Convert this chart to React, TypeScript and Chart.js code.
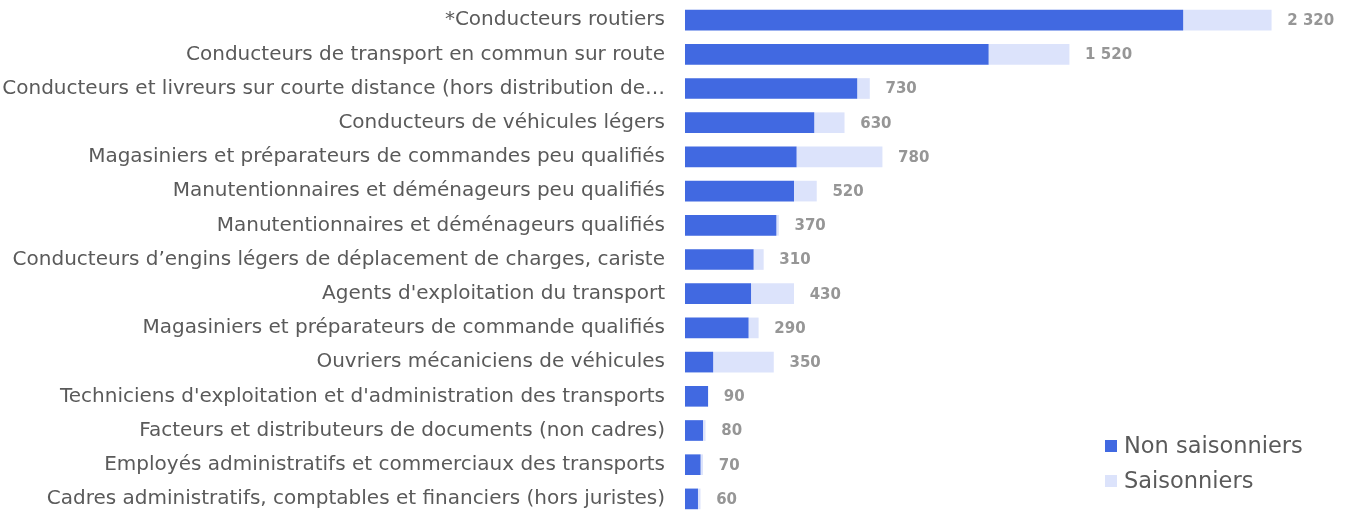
import React, { useEffect, useRef } from "react";
import { Chart, registerables } from "chart.js";

Chart.register(...registerables);

const categories: string[] = [
  "*Conducteurs routiers",
  "Conducteurs de transport en commun sur route",
  "Conducteurs et livreurs sur courte distance (hors distribution de…",
  "Conducteurs de véhicules légers",
  "Magasiniers et préparateurs de commandes peu qualifiés",
  "Manutentionnaires et déménageurs peu qualifiés",
  "Manutentionnaires et déménageurs qualifiés",
  "Conducteurs d’engins légers de déplacement de charges, cariste",
  "Agents d'exploitation du transport",
  "Magasiniers et préparateurs de commande qualifiés",
  "Ouvriers mécaniciens de véhicules",
  "Techniciens d'exploitation et d'administration des transports",
  "Facteurs et distributeurs de documents (non cadres)",
  "Employés administratifs et commerciaux des transports",
  "Cadres administratifs, comptables et financiers (hors juristes)",
];

const nonSaisonniers: number[] = [1970, 1200, 680, 510, 440, 430, 360, 270, 260, 250, 110, 90, 70, 60, 50];
const saisonniers: number[] = [350, 320, 50, 120, 340, 90, 10, 40, 170, 40, 240, 0, 10, 10, 10];
const totals: number[] = [2320, 1520, 730, 630, 780, 520, 370, 310, 430, 290, 350, 90, 80, 70, 60];

const seriesNames: string[] = ["Non saisonniers", "Saisonniers"];
const seriesColors: string[] = ["#4169E1", "#DCE3FB"];

const FONT = "'DejaVu Sans', Verdana, sans-serif";

const fmt = (v: number) => {
  const s = String(v);
  return s.length > 3 ? s.slice(0, s.length - 3) + " " + s.slice(-3) : s;
};

const totalLabels = {
  id: "totalLabels",
  afterDatasetsDraw(chart: any) {
    const ctx = chart.ctx;
    const meta = chart.getDatasetMeta(1);
    ctx.save();
    ctx.font = `bold 15px ${FONT}`;
    ctx.fillStyle = "#969696";
    ctx.textAlign = "left";
    ctx.textBaseline = "middle";
    meta.data.forEach((bar: any, i: number) => {
      ctx.fillText(fmt(totals[i]), bar.x + 16, bar.y + 1);
    });
    ctx.restore();
  },
};

export default function App() {
  const ref = useRef<HTMLCanvasElement | null>(null);

  useEffect(() => {
    if (!ref.current) return;
    const chart = new Chart(ref.current, {
      type: "bar",
      data: {
        labels: categories,
        datasets: [
          {
            label: seriesNames[0],
            data: nonSaisonniers,
            backgroundColor: seriesColors[0],
            borderWidth: 0,
            barThickness: 20,
          },
          {
            label: seriesNames[1],
            data: saisonniers,
            backgroundColor: seriesColors[1],
            borderWidth: 0,
            barThickness: 20,
          },
        ],
      },
      options: {
        indexAxis: "y",
        animation: false,
        responsive: true,
        maintainAspectRatio: false,
        layout: { padding: { top: 3, bottom: 5, left: 0, right: 8 } },
        plugins: {
          legend: { display: false },
          tooltip: { enabled: false },
          title: { display: false },
        },
        scales: {
          x: {
            stacked: true,
            display: false,
            min: 0,
            max: 2600,
          },
          y: {
            stacked: true,
            grid: { display: false, drawTicks: false },
            border: { display: false },
            ticks: {
              padding: 20,
              color: "#5a5a5a",
              font: { family: FONT, size: 20 },
              autoSkip: false,
            },
            afterFit(scale: any) {
              scale.width = 685;
              scale.paddingTop = 0;
              scale.paddingBottom = 0;
            },
          },
        },
      },
      plugins: [totalLabels],
    });
    return () => chart.destroy();
  }, []);

  return (
    <div
      style={{
        position: "absolute",
        left: 0,
        top: 0,
        width: 1350,
        height: 510,
        overflow: "hidden",
        background: "#fff",
      }}
    >
      <div style={{ position: "absolute", left: 0, top: 0, width: 1350, height: 521 }}>
        <canvas ref={ref} />
      </div>
      <div
        style={{
          position: "absolute",
          left: 1105,
          top: 428,
          fontFamily: FONT,
          fontSize: 22.5,
          color: "#5a5a5a",
          lineHeight: "35px",
        }}
      >
        {seriesNames.map((n, i) => (
          <div key={n} style={{ display: "flex", alignItems: "center" }}>
            <span
              style={{
                display: "inline-block",
                width: 12,
                height: 12,
                background: seriesColors[i],
                marginRight: 7,
              }}
            />
            <span>{n}</span>
          </div>
        ))}
      </div>
    </div>
  );
}
